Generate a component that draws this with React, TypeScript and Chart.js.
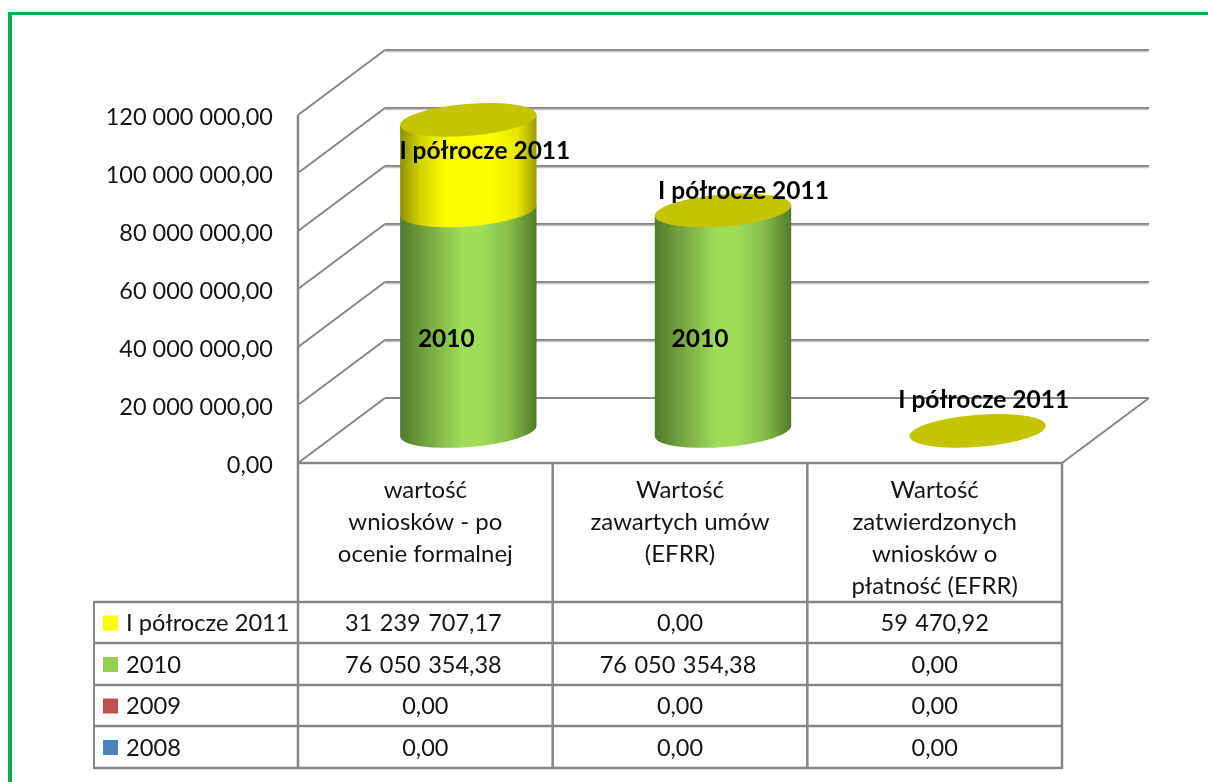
import React, { useEffect, useRef } from "react";
import { Chart, registerables } from "chart.js";

Chart.register(...registerables);

const categories = [
  ["wartość", "wniosków - po", "ocenie formalnej"],
  ["Wartość", "zawartych umów", "(EFRR)"],
  ["Wartość", "zatwierdzonych", "wniosków o", "płatność (EFRR)"],
];
const values2008 = [0, 0, 0];
const values2009 = [0, 0, 0];
const values2010 = [76050354.38, 76050354.38, 0];
const valuesH12011 = [31239707.17, 0, 59470.92];
const seriesNames = ["2008", "2009", "2010", "I półrocze 2011"];
const yTicks = [0, 20000000, 40000000, 60000000, 80000000, 100000000, 120000000];

const FONT = "Lato, 'Open Sans', sans-serif";
const LINE = "#868686";
const DEPTH_X = 87;
const DEPTH_Y = 65;
const MID_X = 43;
const MID_Y = 32;
const TEXT = "#141414";

const fmt = (v: number) => {
  const [i, d] = v.toFixed(2).split(".");
  return i.replace(/\B(?=(\d{3})+(?!\d))/g, " ") + "," + d;
};

const sideStops: Record<string, [number, string][]> = {
  "2010": [
    [0, "#4f7a2b"],
    [0.2, "#74a640"],
    [0.45, "#9edd58"],
    [0.6, "#9edd58"],
    [0.8, "#86bd49"],
    [1, "#517a2c"],
  ],
  "I półrocze 2011": [
    [0, "#8f8f00"],
    [0.14, "#cfcf00"],
    [0.34, "#ffff00"],
    [0.66, "#ffff00"],
    [0.86, "#e8e800"],
    [1, "#999900"],
  ],
};
const CAP = "#c4c400";

// label offsets from each bar's centre and top of segment
const labelShift: Record<string, [number, number][]> = {
  "2010": [[21, -14], [20, -14], [0, 0]],
  "I półrocze 2011": [[59.5, -46.5], [63.5, -51.5], [49, -63]],
};

const line = (c: CanvasRenderingContext2D, x1: number, y1: number, x2: number, y2: number, w = 2, col = LINE) => {
  c.strokeStyle = col;
  c.lineWidth = w;
  c.beginPath();
  c.moveTo(x1, y1);
  c.lineTo(x2, y2);
  c.stroke();
};

const scene = {
  id: "scene",
  beforeDatasetsDraw(chart: any) {
    const c = chart.ctx as CanvasRenderingContext2D;
    const { left, right, bottom, top } = chart.chartArea;
    const y = chart.scales.y;
    c.save();
    c.lineCap = "butt";
    // page frame
    c.fillStyle = "#00b050";
    c.fillRect(8, 12, 1200, 3);
    c.fillRect(8, 12, 4, 770);
    // walls
    yTicks.forEach((t) => {
      const py = y.getPixelForValue(t);
      line(c, left, py, left + DEPTH_X, py - DEPTH_Y, 2);
      line(c, left + DEPTH_X, py - DEPTH_Y, right + DEPTH_X, py - DEPTH_Y, 2);
      if (t > 0) line(c, left + DEPTH_X, py - DEPTH_Y + 1.5, right + DEPTH_X, py - DEPTH_Y + 1.5, 1.5, "#c4c4c4");
    });
    line(c, right, bottom, right + DEPTH_X, bottom - DEPTH_Y, 2);
    line(c, left, top, left, bottom, 2.5);
    c.restore();
  },
  beforeDatasetDraw() {
    return false;
  },
  afterDatasetsDraw(chart: any) {
    const c = chart.ctx as CanvasRenderingContext2D;
    const { bottom, left, right } = chart.chartArea;
    const rot = -0.08;
    const bScale = 16;
    c.save();
    categories.forEach((_, i) => {
      let capX = 0;
      let capY = 0;
      let capA = 0;
      chart.data.datasets.forEach((ds: any, k: number) => {
        const el = chart.getDatasetMeta(k).data[i];
        const cx = el.x + MID_X;
        const a = el.width / 2;
        const yTop = el.y - MID_Y;
        const yBase = el.base - MID_Y;
        capX = cx;
        capA = a;
        capY = Math.min(yTop, capY || yTop);
        if (yBase - yTop < 0.5) return;
        const g = c.createLinearGradient(cx - a, 0, cx + a, 0);
        (sideStops[ds.label] || []).forEach(([o, col]) => g.addColorStop(o, col));
        c.fillStyle = g;
        const dx = a * Math.cos(rot);
        const dy = a * Math.sin(rot);
        c.beginPath();
        c.ellipse(cx, yBase, a, bScale, rot, 0, Math.PI);
        c.lineTo(cx - dx, yTop - dy);
        c.lineTo(cx + dx, yTop + dy);
        c.closePath();
        c.fill();
      });
      c.fillStyle = CAP;
      c.beginPath();
      c.ellipse(capX, capY, capA, bScale, rot, 0, Math.PI * 2);
      c.fill();
    });

    // data labels
    c.fillStyle = "#000";
    c.font = `bold 24.5px ${FONT}`;
    c.textAlign = "center";
    c.textBaseline = "middle";
    chart.data.datasets.forEach((ds: any, k: number) => {
      const shifts = labelShift[ds.label];
      if (!shifts) return;
      categories.forEach((_, i) => {
        const el = chart.getDatasetMeta(k).data[i];
        if (ds.label === "2010" && !ds.data[i]) return;
        const [sx, sy] = shifts[i];
        c.fillText(ds.label, el.x + sx, (el.y + el.base) / 2 + sy);
      });
    });

    // data table
    const rows = [602, 643, 685, 726, 768];
    const colX = chart.scales.x;
    const step = (right - left) / categories.length;
    const tableLeft = 94;
    rows.forEach((ry) => line(c, tableLeft, ry, right, ry, 2.5));
    line(c, left, bottom, right, bottom, 2.5);
    line(c, tableLeft, rows[0] - 1, tableLeft, rows[4] + 1, 2);
    for (let j = 0; j <= categories.length; j++) {
      line(c, left + step * j, bottom - 1, left + step * j, rows[4] + 1, 2.5);
    }
    const order = [...chart.data.datasets].reverse();
    c.textBaseline = "middle";
    order.forEach((ds: any, r: number) => {
      const mid = (rows[r] + rows[r + 1]) / 2 + 1;
      c.fillStyle = ds.backgroundColor;
      c.fillRect(103, mid - 8, 15, 15);
      c.fillStyle = TEXT;
      c.textAlign = "left";
      c.font = `23.7px ${FONT}`;
      (c as any).wordSpacing = "0px";
      c.fillText(ds.label, 126, mid);
      c.textAlign = "center";
      c.font = `23.5px ${FONT}`;
      (c as any).wordSpacing = "1.5px";
      ds.data.forEach((v: number, i: number) => {
        c.fillText(fmt(v), colX.getPixelForValue(i) - (v > 1000000 ? 2 : 0), mid);
      });
    });
    c.restore();
  },
};

export default function App() {
  const ref = useRef<HTMLCanvasElement>(null);
  useEffect(() => {
    const chart = new Chart(ref.current as HTMLCanvasElement, {
      type: "bar",
      data: {
        labels: categories as any,
        datasets: [
          { label: seriesNames[0], data: values2008, backgroundColor: "#4f81bd" },
          { label: seriesNames[1], data: values2009, backgroundColor: "#c0504d" },
          { label: seriesNames[2], data: values2010, backgroundColor: "#92d050" },
          { label: seriesNames[3], data: valuesH12011, backgroundColor: "#ffff00" },
        ],
      },
      options: {
        responsive: false,
        animation: false,
        events: [],
        layout: { padding: { top: 115, right: 146, bottom: 0, left: 0 } },
        datasets: { bar: { barPercentage: 137 / 255, categoryPercentage: 1 } },
        plugins: { legend: { display: false }, tooltip: { enabled: false } },
        scales: {
          x: {
            stacked: true,
            grid: { display: false },
            border: { display: false },
            afterFit: (s: any) => {
              s.height = 319;
            },
            ticks: {
              autoSkip: false,
              maxRotation: 0,
              minRotation: 0,
              padding: 3,
              color: TEXT,
              font: { family: FONT, size: 24, lineHeight: 32 / 24 },
            },
          },
          y: {
            stacked: true,
            min: 0,
            max: 120000000,
            grid: { display: false, drawTicks: false },
            border: { display: false },
            afterFit: (s: any) => {
              s.width = 298;
            },
            afterBuildTicks: (s: any) => {
              s.ticks = yTicks.map((value) => ({ value }));
            },
            ticks: {
              padding: 25,
              labelOffset: 2,
              color: TEXT,
              font: { family: FONT, size: 23.5 },
              callback: (v: any) => fmt(Number(v)),
            },
          },
        },
      },
      plugins: [scene],
    } as any);
    return () => chart.destroy();
  }, []);
  return (
    <canvas
      ref={ref}
      width={1208}
      height={782}
      style={{ position: "absolute", left: 0, top: 0, display: "block", background: "#fff" }}
    />
  );
}
